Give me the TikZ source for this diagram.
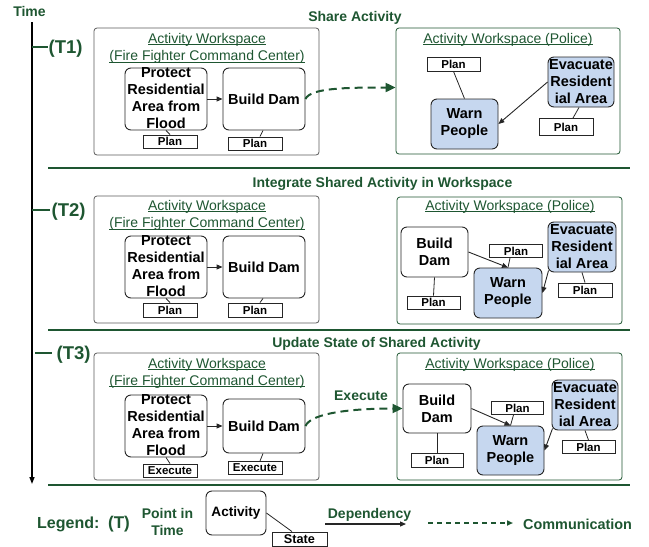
\documentclass[tikz,border=0pt]{standalone}
\usepackage{fontspec}
\setmainfont{Liberation Sans}
\usetikzlibrary{arrows.meta}
\definecolor{dkg}{HTML}{1E5631}
\definecolor{lblue}{HTML}{C6D7EF}
\definecolor{wsgray}{HTML}{5A5A5A}
\newcommand\wsul[1]{\setbox0=\hbox{#1}\rlap{\copy0}\rule[-1.9pt]{\wd0}{0.8pt}}
\tikzset{
 act/.style={draw=black!85, line width=0.9pt, rounded corners=6pt, fill=white, inner sep=0pt, align=center, font=\fontsize{14.5}{17}\selectfont\bfseries},
 shared/.style={act, fill=lblue},
 acttext/.style={inner sep=0pt, align=center, font=\fontsize{14.5}{17}\selectfont\bfseries},
 statebox/.style={draw=black!85, line width=0.9pt, fill=white, inner sep=0pt, minimum width=54pt, minimum height=13pt, font=\fontsize{11.5}{13}\selectfont\bfseries},
 wsleft/.style={draw=wsgray, line width=0.8pt, rounded corners=3pt, inner sep=0pt},
 wsright/.style={draw=dkg, line width=0.8pt, rounded corners=3pt, inner sep=0pt},
 wstitle/.style={text=dkg, inner sep=0pt, anchor=base, font=\fontsize{14}{17}\selectfont},
 phase/.style={text=dkg, inner sep=0pt, font=\fontsize{14}{17}\selectfont\bfseries},
 tlabel/.style={text=dkg, inner sep=0pt, anchor=base west, font=\fontsize{18.5}{20}\selectfont\bfseries},
 dep/.style={draw=black!85, line width=0.9pt, -{Triangle[length=6pt,width=5pt]}},
 conn/.style={draw=black!85, line width=0.8pt},
 comm/.style={draw=dkg, line width=2pt, dash pattern=on 8pt off 5pt, -{Triangle[length=10pt,width=9pt]}},
 sep/.style={draw=dkg, line width=2pt},
 tick/.style={draw=dkg, line width=1.8pt},
}
\begin{document}
\begin{tikzpicture}[x=1pt,y=-1pt]
\useasboundingbox (0,0) rectangle (649,547);

% time axis
\node[phase, anchor=base] (time) at (29.5,16.7) {Time};
\coordinate (ax0) at (32,22);
\coordinate (ax1) at (32,484);
\draw[line width=1.5pt, -{Triangle[length=7pt,width=5pt]}] (ax0) -- (ax1);

\coordinate (k1a) at (32,47); \coordinate (k1b) at (48,47);
\draw[tick] (k1a) -- (k1b);
\node[tlabel] (T1) at (48.5,53) {(T1)};
\coordinate (k2a) at (32,210); \coordinate (k2b) at (50,210);
\draw[tick] (k2a) -- (k2b);
\node[tlabel] (T2) at (51.5,216.7) {(T2)};
\coordinate (k3a) at (35,353.3); \coordinate (k3b) at (52,353.3);
\draw[tick] (k3a) -- (k3b);
\node[tlabel] (T3) at (56.5,359.3) {(T3)};

% separators
\coordinate (sp1a) at (48,168); \coordinate (sp1b) at (630,168);
\coordinate (sp2a) at (48,329.5); \coordinate (sp2b) at (630,329.5);
\coordinate (sp3a) at (48,485); \coordinate (sp3b) at (630,485);
\draw[sep] (sp1a) -- (sp1b);
\draw[sep] (sp2a) -- (sp2b);
\draw[sep] (sp3a) -- (sp3b);

% headings
\node[phase, anchor=base] (h1) at (355,21) {Share Activity};
\node[phase, anchor=base] (h2) at (382.5,187.3) {Integrate Shared Activity in Workspace};
\node[phase, anchor=base] (h3) at (376.5,347.7) {Update State of Shared Activity};

% ================= T1 =================
\node[wsleft, minimum width=225pt, minimum height=127pt] (wl1) at (206.5,91.5) {};
\node[wstitle] (wl1a) at (207,43) {\wsul{Activity Workspace}};
\node[wstitle] (wl1b) at (207,60.5) {\wsul{(Fire Fighter Command Center)}};
\node[wsright, minimum width=224pt, minimum height=126pt] (wr1) at (508,91) {};
\node[wstitle] (wr1a) at (508,43) {\wsul{Activity Workspace (Police)}};

\node[act, minimum width=82pt, minimum height=62pt] (p1) at (166,99) {};
\node[acttext] (p1t) at (166,98) {Protect\\Residential\\Area from\\Flood};
\node[act, minimum width=82pt, minimum height=62pt] (b1) at (264,99) {Build Dam};
\node[statebox] (s1a) at (170,141.5) {Plan};
\node[statebox] (s1b) at (255,143.5) {Plan};
\draw[dep] (p1) -- (b1);
\draw[conn] (p1.south) -- (s1a.north);
\draw[conn] ([xshift=-1pt]b1.south) -- ([xshift=5pt]s1b.north);

\node[statebox, minimum width=53pt, minimum height=14pt] (q1) at (453.5,64) {Plan};
\node[shared, minimum width=67pt, minimum height=50pt] (w1) at (464.5,124) {Warn\\People};
\node[shared, minimum width=66pt, minimum height=50pt] (e1) at (581,82) {Evacuate\\Resident\\ial Area};
\node[statebox, minimum height=17pt] (r1) at (566,127) {Plan};
\draw[conn] (q1.south) -- (w1.north);
\draw[dep] (e1.west) -- (w1.east);
\draw[conn] ([xshift=-2pt]e1.south) -- ([xshift=7pt]r1.north);

\draw[comm] (b1.east) .. controls +(5,-11) and +(-50,0) .. ([yshift=3.5pt]wr1.west);

% ================= T2 =================
\node[wsleft, minimum width=225pt, minimum height=127pt] (wl2) at (206.5,259.5) {};
\node[wstitle] (wl2a) at (207,210) {\wsul{Activity Workspace}};
\node[wstitle] (wl2b) at (207,227.5) {\wsul{(Fire Fighter Command Center)}};
\node[wsright, minimum width=225pt, minimum height=127pt] (wr2) at (509.5,260.5) {};
\node[wstitle] (wr2a) at (510,210) {\wsul{Activity Workspace (Police)}};

\node[act, minimum width=82pt, minimum height=62pt] (p2) at (166,267) {};
\node[acttext] (p2t) at (166,266) {Protect\\Residential\\Area from\\Flood};
\node[act, minimum width=82pt, minimum height=62pt] (b2) at (264,267) {Build Dam};
\node[statebox, minimum height=14pt] (s2a) at (170,310) {Plan};
\node[statebox, minimum height=14pt] (s2b) at (255,310) {Plan};
\draw[dep] (p2) -- (b2);
\draw[conn] (p2.south) -- (s2a.north);
\draw[conn] ([xshift=-1pt]b2.south) -- ([xshift=5pt]s2b.north);

\node[act, minimum width=67pt, minimum height=50pt] (pb2) at (434.5,252) {Build\\Dam};
\node[statebox, minimum width=53pt] (pbs2) at (433.5,302.5) {Plan};
\node[statebox, minimum width=53pt] (pm2) at (516,251) {Plan};
\node[shared, minimum width=68pt, minimum height=50pt] (w2) at (508,293) {Warn\\People};
\node[shared, minimum width=68pt, minimum height=50pt] (e2) at (582,247) {Evacuate\\Resident\\ial Area};
\node[statebox, minimum height=14pt] (es2) at (585,290) {Plan};
\draw[conn] (pb2.south) -- (pbs2.north);
\draw[dep] (pb2.east) -- (w2.north);
\draw[conn] ([xshift=-6pt]pm2.south) -- (w2.north);
\draw[dep] ([xshift=1pt,yshift=2pt]e2.south west) -- (w2.east);
\draw[conn] (e2.south) -- (es2.north);

% ================= T3 =================
\node[wsleft, minimum width=225pt, minimum height=127pt] (wl3) at (206.5,416.5) {};
\node[wstitle] (wl3a) at (207,368) {\wsul{Activity Workspace}};
\node[wstitle] (wl3b) at (207,385) {\wsul{(Fire Fighter Command Center)}};
\node[wsright, minimum width=225pt, minimum height=127pt] (wr3) at (509.5,416.5) {};
\node[wstitle] (wr3a) at (510,368) {\wsul{Activity Workspace (Police)}};

\node[act, minimum width=82pt, minimum height=62pt] (p3) at (166,426) {};
\node[acttext] (p3t) at (166,425) {Protect\\Residential\\Area from\\Flood};
\node[act, minimum width=82pt, minimum height=54pt] (b3) at (264,426) {Build Dam};
\node[statebox] (x3a) at (170,470.5) {Execute};
\node[statebox] (x3b) at (255,468) {Execute};
\draw[dep] (p3) -- (b3);
\draw[conn] (p3.south) -- (x3a.north);
\draw[conn] ([xshift=-1pt]b3.south) -- ([xshift=5pt]x3b.north);

\node[act, minimum width=68pt, minimum height=49pt] (pb3) at (437,408.5) {Build\\Dam};
\node[statebox, minimum width=52pt, minimum height=14pt] (pbs3) at (437,460) {Plan};
\node[statebox, minimum width=52pt] (pm3) at (517.5,408) {Plan};
\node[shared, minimum width=67pt, minimum height=49pt] (w3) at (510.5,450.5) {Warn\\People};
\node[shared, minimum width=66pt, minimum height=50pt] (e3) at (585,405) {Evacuate\\Resident\\ial Area};
\node[statebox, minimum width=53pt] (es3) at (588.5,447) {Plan};
\draw[conn] (pb3.south) -- (pbs3.north);
\draw[dep] (pb3.east) -- (w3.north);
\draw[conn] ([xshift=-4pt]pm3.south) -- (w3.north);
\draw[dep] ([xshift=1pt,yshift=2pt]e3.south west) -- (w3.east);
\draw[conn] (e3.south) -- (es3.north);

\draw[comm] (b3.east) .. controls +(6,-14) and +(-45,0) .. (pb3.west);
\node[phase, anchor=base] (exl) at (361,400.7) {Execute};

% ================= Legend =================
\node[text=dkg, inner sep=0pt, anchor=base west, font=\fontsize{16}{18}\selectfont\bfseries] (lg) at (37,528.3) {Legend:};
\node[text=dkg, inner sep=0pt, anchor=base west, font=\fontsize{17}{19}\selectfont\bfseries] (lt) at (108,528.3) {(T)};
\node[phase, align=center, font=\fontsize{14}{17.4}\selectfont\bfseries] (lp) at (167.5,522) {Point in\\Time};
\node[act, minimum width=60pt, minimum height=44pt, font=\fontsize{13.6}{16}\selectfont\bfseries] (la) at (236,513) {Activity};
\node[statebox, minimum width=55pt, minimum height=14pt, font=\fontsize{12.7}{14}\selectfont\bfseries] (ls) at (299.5,539) {State};
\draw[conn] (la.east) -- ([xshift=-7.5pt]ls.north);
\node[phase, anchor=base] (ldt) at (369.5,518.3) {Dependency};
\coordinate (d0) at (325,524); \coordinate (d1) at (406,524);
\draw[dep, line width=1.2pt] (d0) -- (d1);
\coordinate (c0) at (428,523); \coordinate (c1) at (513,523);
\draw[draw=dkg, line width=1.6pt, dash pattern=on 5pt off 4pt, -{Triangle[length=6pt,width=5pt]}] (c0) -- (c1);
\node[phase, anchor=base west, font=\fontsize{14.4}{17}\selectfont\bfseries] (lct) at (523,529) {Communication};
\end{tikzpicture}
\end{document}
